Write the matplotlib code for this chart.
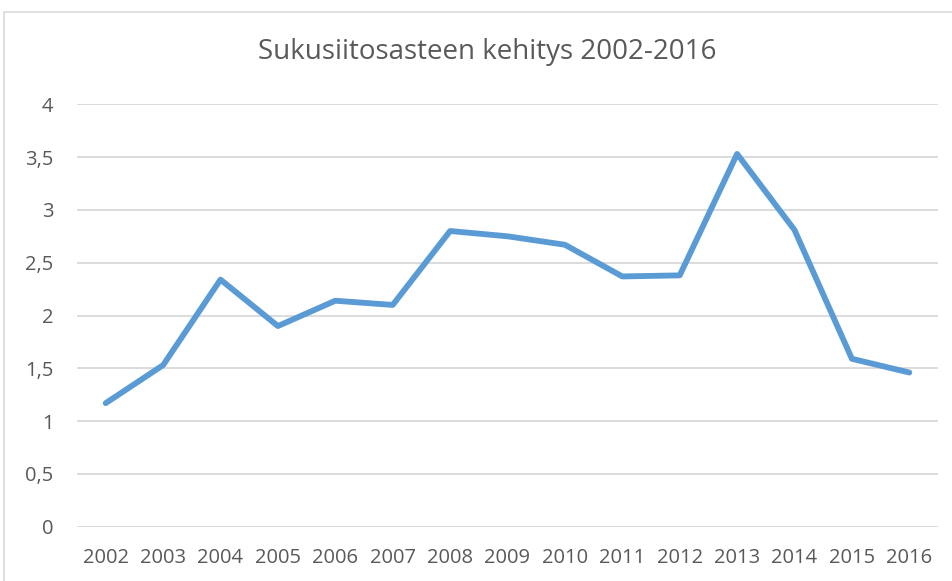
import matplotlib
matplotlib.use("Agg")
import matplotlib.pyplot as plt
from matplotlib.patches import Rectangle
from matplotlib.ticker import FuncFormatter

years = ["2002", "2003", "2004", "2005", "2006", "2007", "2008", "2009",
         "2010", "2011", "2012", "2013", "2014", "2015", "2016"]
values = [1.17, 1.53, 2.34, 1.90, 2.14, 2.10, 2.80, 2.75,
          2.67, 2.37, 2.38, 3.53, 2.81, 1.59, 1.46]
title = "Sukusiitosasteen kehitys 2002-2016"

plt.rcParams['font.family'] = ['Open Sans', 'DejaVu Sans']
txt = '#595959'

fig = plt.figure(figsize=(9.53, 5.81), dpi=100)
fig.patch.set_facecolor('white')
fig.patches.append(Rectangle((4/953, -0.1), 1.2, 1 - 12/581 + 0.1,
                             transform=fig.transFigure, fill=False,
                             edgecolor='#d9d9d9', linewidth=1.2))

ax = fig.add_axes([77/953, 1 - 526.7/581, (938 - 77)/953, (526.7 - 104.3)/581])
x = list(range(len(years)))
ax.plot(x, values, color='#5b9bd5', linewidth=4.2,
        solid_capstyle='round', solid_joinstyle='round', zorder=3)
ax.set_xlim(-0.5, len(years) - 0.5)
ax.set_ylim(0, 4)
ax.set_yticks([0, 0.5, 1, 1.5, 2, 2.5, 3, 3.5, 4])
ax.yaxis.set_major_formatter(FuncFormatter(
    lambda v, p: (('%g' % v).replace('.', ','))))
ax.set_xticks(x)
ax.set_xticklabels(years)
ax.grid(axis='y', color='#d9d9d9', linewidth=1.3)
ax.set_axisbelow(True)
for s in ax.spines.values():
    s.set_visible(False)
ax.tick_params(axis='both', length=0, labelcolor=txt, labelsize=14.5)
ax.tick_params(axis='x', pad=15)
ax.tick_params(axis='y', pad=17)

fig.text(487.5/953, 1 - 52/581, title, ha='center', va='center',
         fontsize=20, color=txt)

fig.savefig('out.png', dpi=100)
